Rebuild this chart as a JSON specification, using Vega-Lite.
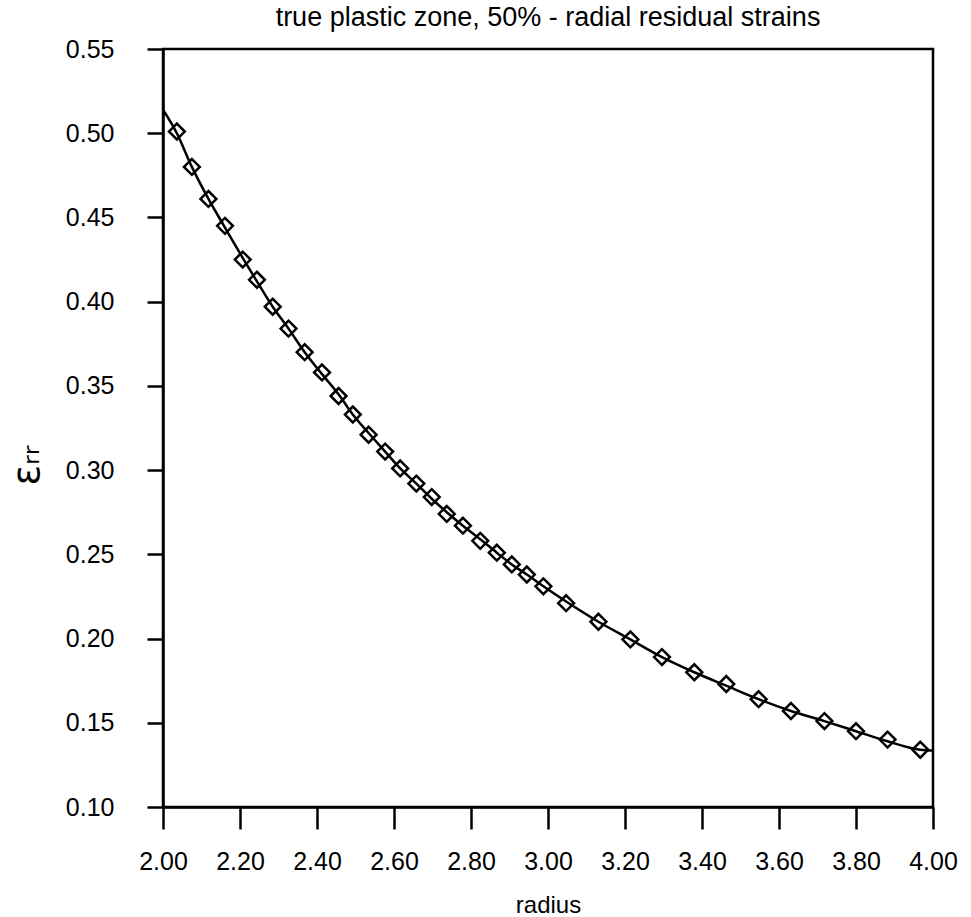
{
  "$schema": "https://vega.github.io/schema/vega-lite/v6.json",
  "autosize": "none",
  "width": 770,
  "height": 758,
  "padding": {"left": 163, "top": 49, "right": 38, "bottom": 110},
  "background": "white",
  "config": {
    "font": "Liberation Sans",
    "view": {"stroke": "black", "strokeWidth": 2.5},
    "axis": {
      "domainColor": "black", "domainWidth": 2.5,
      "tickColor": "black", "tickWidth": 2.5,
      "labelColor": "black", "titleColor": "black",
      "grid": false, "labelFont": "Liberation Sans", "titleFont": "Liberation Sans",
      "titleFontWeight": "normal"
    }
  },
  "title": {"text": "true plastic zone, 50% - radial residual strains", "fontSize": 27, "fontWeight": "normal", "color": "black", "offset": 5, "font": "Liberation Sans"},
  "datasets": {
    "fem": [
      {"radius": 2.036, "err": 0.501},
      {"radius": 2.075, "err": 0.480},
      {"radius": 2.118, "err": 0.461},
      {"radius": 2.161, "err": 0.445},
      {"radius": 2.207, "err": 0.425},
      {"radius": 2.244, "err": 0.413},
      {"radius": 2.285, "err": 0.397},
      {"radius": 2.326, "err": 0.384},
      {"radius": 2.368, "err": 0.370},
      {"radius": 2.413, "err": 0.358},
      {"radius": 2.456, "err": 0.344},
      {"radius": 2.493, "err": 0.333},
      {"radius": 2.534, "err": 0.321},
      {"radius": 2.577, "err": 0.311},
      {"radius": 2.616, "err": 0.301},
      {"radius": 2.658, "err": 0.292},
      {"radius": 2.698, "err": 0.284},
      {"radius": 2.737, "err": 0.274},
      {"radius": 2.779, "err": 0.267},
      {"radius": 2.824, "err": 0.258},
      {"radius": 2.867, "err": 0.251},
      {"radius": 2.906, "err": 0.244},
      {"radius": 2.945, "err": 0.238},
      {"radius": 2.988, "err": 0.231},
      {"radius": 3.047, "err": 0.221},
      {"radius": 3.131, "err": 0.210},
      {"radius": 3.214, "err": 0.1995},
      {"radius": 3.296, "err": 0.189},
      {"radius": 3.380, "err": 0.180},
      {"radius": 3.463, "err": 0.173},
      {"radius": 3.547, "err": 0.164},
      {"radius": 3.631, "err": 0.157},
      {"radius": 3.718, "err": 0.151},
      {"radius": 3.800, "err": 0.145},
      {"radius": 3.882, "err": 0.140},
      {"radius": 3.967, "err": 0.134}
    ],
    "curve": [
      {"radius": 2.000, "err": 0.514},
      {"radius": 2.036, "err": 0.500},
      {"radius": 2.075, "err": 0.480},
      {"radius": 2.118, "err": 0.461},
      {"radius": 2.161, "err": 0.444},
      {"radius": 2.207, "err": 0.426},
      {"radius": 2.244, "err": 0.412},
      {"radius": 2.285, "err": 0.397},
      {"radius": 2.326, "err": 0.384},
      {"radius": 2.368, "err": 0.370},
      {"radius": 2.413, "err": 0.357},
      {"radius": 2.456, "err": 0.345},
      {"radius": 2.493, "err": 0.333},
      {"radius": 2.534, "err": 0.322},
      {"radius": 2.577, "err": 0.311},
      {"radius": 2.616, "err": 0.301},
      {"radius": 2.658, "err": 0.292},
      {"radius": 2.698, "err": 0.283},
      {"radius": 2.737, "err": 0.275},
      {"radius": 2.779, "err": 0.267},
      {"radius": 2.824, "err": 0.259},
      {"radius": 2.867, "err": 0.251},
      {"radius": 2.906, "err": 0.244},
      {"radius": 2.945, "err": 0.238},
      {"radius": 2.988, "err": 0.231},
      {"radius": 3.047, "err": 0.222},
      {"radius": 3.131, "err": 0.210},
      {"radius": 3.214, "err": 0.1995},
      {"radius": 3.296, "err": 0.189},
      {"radius": 3.380, "err": 0.180},
      {"radius": 3.463, "err": 0.172},
      {"radius": 3.547, "err": 0.164},
      {"radius": 3.631, "err": 0.157},
      {"radius": 3.718, "err": 0.151},
      {"radius": 3.800, "err": 0.145},
      {"radius": 3.882, "err": 0.139},
      {"radius": 3.967, "err": 0.134},
      {"radius": 4.000, "err": 0.1335}
    ]
  },
  "layer": [
    {
      "data": {"name": "curve"},
      "mark": {"type": "line", "color": "black", "strokeWidth": 2.5, "interpolate": "monotone", "clip": true},
      "encoding": {
        "x": {"field": "radius", "type": "quantitative",
          "scale": {"domain": [2, 4], "nice": false, "zero": false},
          "axis": {"values": [2, 2.2, 2.4, 2.6, 2.8, 3, 3.2, 3.4, 3.6, 3.8, 4], "format": ".2f",
            "tickSize": 22, "labelPadding": 20, "labelFontSize": 25, "title": "radius",
            "titleFontSize": 24, "titlePadding": 19, "labelFlush": false}},
        "y": {"field": "err", "type": "quantitative",
          "scale": {"domain": [0.1, 0.55], "nice": false, "zero": false},
          "axis": {"values": [0.1, 0.15, 0.2, 0.25, 0.3, 0.35, 0.4, 0.45, 0.5, 0.55], "format": ".2f",
            "tickSize": 16, "labelPadding": 33, "labelFontSize": 25, "labelFlush": false,
            "title": "εᵣᵣ", "titleFont": "DejaVu Sans", "titleFontSize": 38,
            "titleX": -136, "titleY": 416, "titleAngle": -90, "titleAlign": "center", "titleBaseline": "middle"}}
      }
    },
    {
      "data": {"name": "fem"},
      "mark": {"type": "point", "shape": "diamond", "filled": false, "stroke": "black", "strokeWidth": 2.5, "size": 250, "opacity": 1},
      "encoding": {
        "x": {"field": "radius", "type": "quantitative"},
        "y": {"field": "err", "type": "quantitative"}
      }
    }
  ]
}
